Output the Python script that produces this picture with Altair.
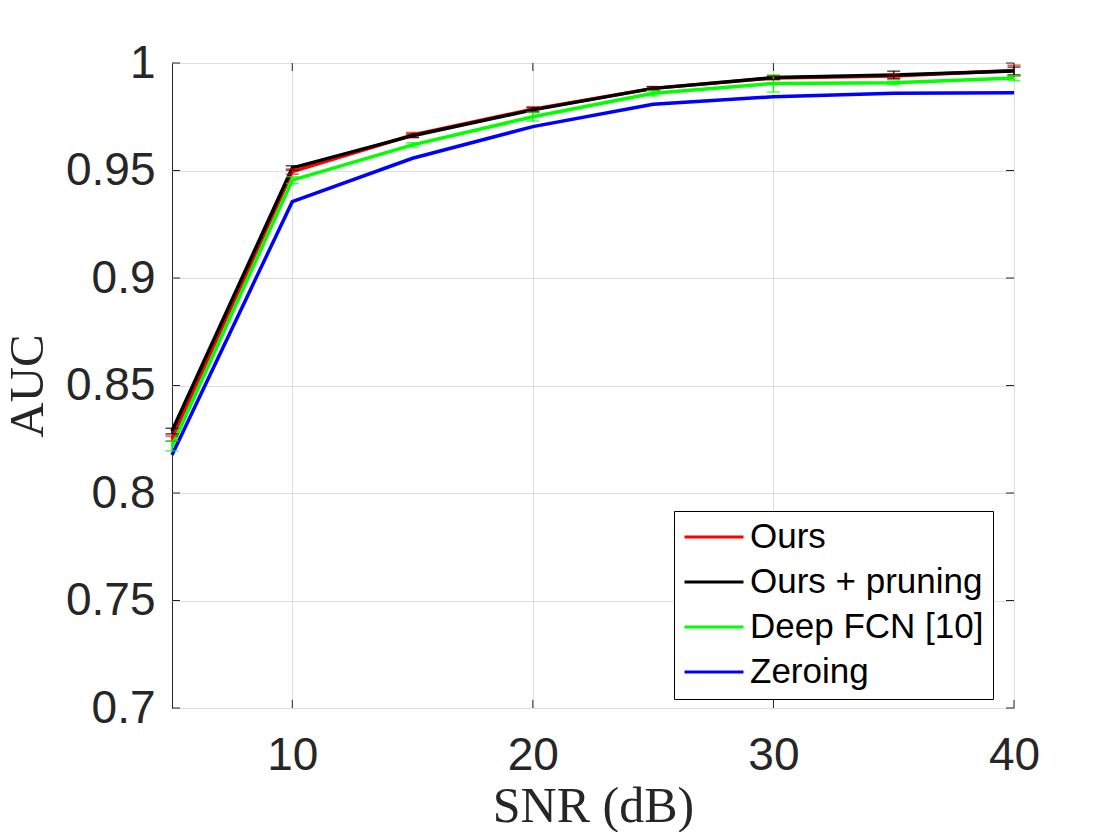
import altair as alt
import pandas as pd

snr = [5, 10, 15, 20, 25, 30, 35, 40]
series_names = ["Ours", "Ours + pruning", "Deep FCN [10]", "Zeroing"]
series_colors = ["#ff0000", "#000000", "#00ff00", "#0000ff"]

ours = [0.8253, 0.9495, 0.9665, 0.9785, 0.9882, 0.9930, 0.9940, 0.9965]
ours_err = [0.0012, 0.0012, 0.0012, 0.0012, 0.0008, 0.0008, 0.0010, 0.0025]
pruning = [0.8288, 0.9512, 0.9662, 0.9782, 0.9882, 0.9932, 0.9944, 0.9963]
pruning_err = [0.0013, 0.0010, 0.0008, 0.0010, 0.0008, 0.0008, 0.0018, 0.0018]
fcn = [0.8219, 0.9455, 0.9619, 0.9750, 0.9859, 0.9905, 0.9908, 0.9930]
fcn_err = [0.0023, 0.0016, 0.0010, 0.0020, 0.0012, 0.0040, 0.0008, 0.0012]
zeroing = [0.8177, 0.9355, 0.9557, 0.9704, 0.9808, 0.9843, 0.9859, 0.9862]

xticks = [10, 20, 30, 40]
yticks = [0.7, 0.75, 0.8, 0.85, 0.9, 0.95, 1.0]

rows = []
for name, vals in zip(series_names, [ours, pruning, fcn, zeroing]):
    for s, v in zip(snr, vals):
        rows.append({"series": name, "snr": s, "auc": v})
df = pd.DataFrame(rows)

erows = []
for name, vals, errs in zip(series_names[:3], [ours, pruning, fcn], [ours_err, pruning_err, fcn_err]):
    for s, v, e in zip(snr, vals, errs):
        erows.append({"series_e": name, "snr": s, "lo": v - e, "hi": v + e})
edf = pd.DataFrame(erows)

W, H = 842, 645
AX = "#262626"

xscale = alt.Scale(domain=[5, 40], nice=False, zero=False)
yscale = alt.Scale(domain=[0.7, 1.0], nice=False, zero=False)

xaxis = alt.Axis(values=xticks, title="SNR (dB)", titleFont="Liberation Serif",
                 titleFontSize=50, titleFontWeight="normal", titleColor=AX,
                 titleX=W / 2, titleY=113, titleAlign="center", titleBaseline="alphabetic",
                 labelFont="Liberation Sans", labelFontSize=46, labelColor=AX,
                 labelBaseline="alphabetic", labelPadding=61, ticks=False, tickSize=0,
                 domain=False, grid=True, gridColor="#dedede", gridWidth=1, labelFlush=False)
yaxis = alt.Axis(values=yticks, format="~g", title="AUC", titleFont="Liberation Serif",
                 titleFontSize=49, titleFontWeight="normal", titleColor=AX,
                 titleAngle=270, titleX=-130, titleY=H / 2, titleAlign="center",
                 titleBaseline="alphabetic",
                 labelFont="Liberation Sans", labelFontSize=46, labelColor=AX,
                 labelPadding=17, ticks=False, tickSize=0, domain=False,
                 grid=True, gridColor="#dedede", gridWidth=1, labelFlush=False)

color = alt.Color("series:N", scale=alt.Scale(domain=series_names, range=series_colors),
                  legend=alt.Legend(orient="none", legendX=502, legendY=448, title=None,
                                    symbolType="stroke", symbolSize=3481, symbolStrokeWidth=3,
                                    labelFont="Liberation Sans", labelFontSize=35,
                                    labelColor="black", labelLimit=500, labelOffset=5,
                                    strokeColor="black", fillColor="white", padding=9,
                                    rowPadding=10, clipHeight=34))

lines = alt.Chart(df).mark_line(strokeWidth=3.5).encode(
    x=alt.X("snr:Q", scale=xscale, axis=xaxis),
    y=alt.Y("auc:Q", scale=yscale, axis=yaxis),
    color=color,
    order=alt.Order("snr:Q"),
)

ecolor = alt.Color("series_e:N", scale=alt.Scale(domain=series_names, range=series_colors),
                   legend=None)
ebase = alt.Chart(edf)
evert = ebase.mark_rule(strokeWidth=1.5).encode(
    x=alt.X("snr:Q", scale=xscale), y=alt.Y("lo:Q", scale=yscale), y2="hi:Q", color=ecolor)
ecap_lo = ebase.mark_tick(orient="horizontal", size=13, thickness=1.5).encode(
    x=alt.X("snr:Q", scale=xscale), y=alt.Y("lo:Q", scale=yscale), color=ecolor)
ecap_hi = ebase.mark_tick(orient="horizontal", size=13, thickness=1.5).encode(
    x=alt.X("snr:Q", scale=xscale), y=alt.Y("hi:Q", scale=yscale), color=ecolor)

xt = pd.DataFrame({"xt": xticks})
yt = pd.DataFrame({"yt": yticks})
tb = alt.Chart(xt).mark_rule(color=AX, strokeWidth=1).encode(
    x=alt.X("xt:Q", scale=xscale), y=alt.value(H), y2=alt.value(H - 8))
tt = alt.Chart(xt).mark_rule(color=AX, strokeWidth=1).encode(
    x=alt.X("xt:Q", scale=xscale), y=alt.value(0), y2=alt.value(8))
tl = alt.Chart(yt).mark_rule(color=AX, strokeWidth=1).encode(
    y=alt.Y("yt:Q", scale=yscale), x=alt.value(0), x2=alt.value(8))
tr = alt.Chart(yt).mark_rule(color=AX, strokeWidth=1).encode(
    y=alt.Y("yt:Q", scale=yscale), x=alt.value(W - 8), x2=alt.value(W))

chart = alt.layer(lines, evert, ecap_lo, ecap_hi, tb, tt, tl, tr).resolve_scale(
    color="independent"
).properties(
    width=W, height=H,
    autosize=alt.AutoSizeParams(type="none"),
    padding={"left": 164, "top": 55, "right": 98, "bottom": 124},
    background="white",
).configure_view(stroke=AX, strokeWidth=1)

chart.save("out.html", embed_options={"renderer": "svg", "actions": False})
